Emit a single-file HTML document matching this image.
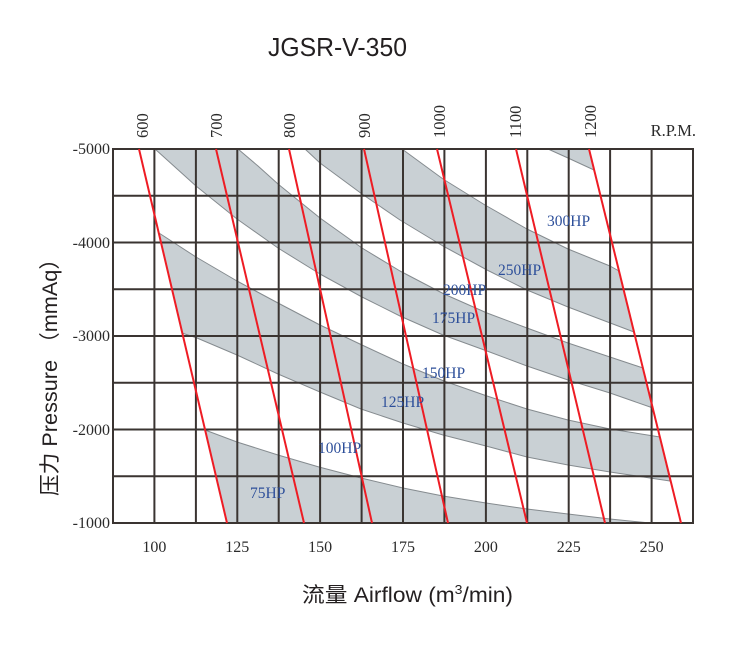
<!DOCTYPE html>
<html>
<head>
<meta charset="utf-8">
<style>
  html, body { margin: 0; padding: 0; background: #ffffff; }
  svg { display: block; }
  .num { font-family: "Liberation Serif", "DejaVu Serif", serif; font-size: 16px; fill: #2b2b2b; }
  .rpm { font-family: "Liberation Serif", "DejaVu Serif", serif; font-size: 16.5px; fill: #2b2b2b; }
  .hp { font-family: "Liberation Serif", "DejaVu Serif", serif; font-size: 15.5px; fill: #2d4f9a; }
  .ttl { font-family: "Liberation Sans", "Noto Sans CJK SC", sans-serif; fill: #231f20; }
</style>
</head>
<body>
<svg width="750" height="650" viewBox="0 0 750 650" xmlns="http://www.w3.org/2000/svg">
  <rect x="0" y="0" width="750" height="650" fill="#ffffff"/>

  <!-- Title -->
  <text class="ttl" x="268" y="56" font-size="26" textLength="139" lengthAdjust="spacingAndGlyphs">JGSR-V-350</text>

  <!-- Bands -->
  <g fill="#c9d0d4" stroke="#858b8f" stroke-width="1" stroke-linejoin="round">
    <!-- Band A (75HP) -->
    <path d="M205,430 L237,442 L278,455 L319,467 L361,478 L403,488 L443,496 L486,503 L527,509 L568,514 L610,519 L650,523 L227,523 Z"/>
    <!-- Band B (125HP) -->
    <path d="M159,233 L196,257 L237,281 L278,303 L320,325 L362,345 L403,364 L444,381 L487,396 L527,409 L568,420 L610,429 L660,437 L670,481 L610,472 L568,465 L527,457 L486,446 L443,435 L403,423 L361,409 L320,392 L278,374 L237,355 L197,338 L182,333 Z"/>
    <!-- Band C (175HP) -->
    <path d="M155,149 L238,149 L258,166 L278,184 L299,201 L320,218 L362,248 L400,271 L444,294 L487,313 L527,328 L568,343 L610,357 L643,368 L653,408 L610,393 L568,380 L527,366 L487,351 L443,335 L400,316 L362,297 L320,274 L278,248 L237,219 L196,186 Z"/>
    <!-- Band D (250HP) -->
    <path d="M305,149 L402,149 L443,179 L485,205 L527,229 L568,249 L610,266 L619,271 L634,332 L568,307 L527,290 L487,270 L443,246 L400,220 L362,194 L320,163 Z"/>
    <!-- Band E -->
    <path d="M548,149 L589,149 L594,170 L568,158 Z"/>
  </g>

  <!-- Grid -->
  <g stroke="#3a3431" stroke-width="2" fill="none">
    <line x1="113" y1="149" x2="113" y2="523"/>
    <line x1="154.4" y1="149" x2="154.4" y2="523"/>
    <line x1="195.9" y1="149" x2="195.9" y2="523"/>
    <line x1="237.3" y1="149" x2="237.3" y2="523"/>
    <line x1="278.7" y1="149" x2="278.7" y2="523"/>
    <line x1="320.1" y1="149" x2="320.1" y2="523"/>
    <line x1="361.6" y1="149" x2="361.6" y2="523"/>
    <line x1="403" y1="149" x2="403" y2="523"/>
    <line x1="444.4" y1="149" x2="444.4" y2="523"/>
    <line x1="485.9" y1="149" x2="485.9" y2="523"/>
    <line x1="527.3" y1="149" x2="527.3" y2="523"/>
    <line x1="568.7" y1="149" x2="568.7" y2="523"/>
    <line x1="610.1" y1="149" x2="610.1" y2="523"/>
    <line x1="651.6" y1="149" x2="651.6" y2="523"/>
    <line x1="693" y1="149" x2="693" y2="523"/>

    <line x1="112" y1="149" x2="694" y2="149"/>
    <line x1="112" y1="195.75" x2="694" y2="195.75"/>
    <line x1="112" y1="242.5" x2="694" y2="242.5"/>
    <line x1="112" y1="289.25" x2="694" y2="289.25"/>
    <line x1="112" y1="336" x2="694" y2="336"/>
    <line x1="112" y1="382.75" x2="694" y2="382.75"/>
    <line x1="112" y1="429.5" x2="694" y2="429.5"/>
    <line x1="112" y1="476.25" x2="694" y2="476.25"/>
    <line x1="112" y1="523" x2="694" y2="523"/>
  </g>

  <!-- RPM lines -->
  <g stroke="#ee1c24" stroke-width="2" fill="none" stroke-linecap="butt">
    <line x1="139" y1="149" x2="227" y2="523"/>
    <line x1="216" y1="149" x2="304" y2="523"/>
    <line x1="289" y1="149" x2="372" y2="523"/>
    <line x1="364" y1="149" x2="448" y2="523"/>
    <line x1="437" y1="149" x2="527" y2="523"/>
    <line x1="516" y1="149" x2="605" y2="523"/>
    <line x1="589" y1="149" x2="681" y2="523"/>
  </g>

  <!-- HP labels -->
  <text class="hp" x="547" y="226">300HP</text>
  <text class="hp" x="498" y="275">250HP</text>
  <text class="hp" x="443" y="295">200HP</text>
  <text class="hp" x="432" y="323">175HP</text>
  <text class="hp" x="422" y="378">150HP</text>
  <text class="hp" x="381" y="407">125HP</text>
  <text class="hp" x="318" y="453">100HP</text>
  <text class="hp" x="250" y="498">75HP</text>

  <!-- Y-axis numbers -->
  <text class="num" x="110" y="154" text-anchor="end">-5000</text>
  <text class="num" x="110" y="248" text-anchor="end">-4000</text>
  <text class="num" x="110" y="341" text-anchor="end">-3000</text>
  <text class="num" x="110" y="435" text-anchor="end">-2000</text>
  <text class="num" x="110" y="528" text-anchor="end">-1000</text>

  <!-- X-axis numbers -->
  <text class="num" x="154.4" y="552" text-anchor="middle">100</text>
  <text class="num" x="237.3" y="552" text-anchor="middle">125</text>
  <text class="num" x="320.1" y="552" text-anchor="middle">150</text>
  <text class="num" x="403" y="552" text-anchor="middle">175</text>
  <text class="num" x="485.9" y="552" text-anchor="middle">200</text>
  <text class="num" x="568.7" y="552" text-anchor="middle">225</text>
  <text class="num" x="651.6" y="552" text-anchor="middle">250</text>

  <!-- RPM labels (rotated) -->
  <text class="rpm" transform="translate(148,138) rotate(-90)">600</text>
  <text class="rpm" transform="translate(222,138) rotate(-90)">700</text>
  <text class="rpm" transform="translate(295,138) rotate(-90)">800</text>
  <text class="rpm" transform="translate(370,138) rotate(-90)">900</text>
  <text class="rpm" transform="translate(445,138) rotate(-90)">1000</text>
  <text class="rpm" transform="translate(521,138) rotate(-90)">1100</text>
  <text class="rpm" transform="translate(596,138) rotate(-90)">1200</text>
  <text class="rpm" x="696" y="136" text-anchor="end">R.P.M.</text>

  <!-- X-axis title -->
  <text class="ttl" x="302" y="602" font-size="21" textLength="211" lengthAdjust="spacingAndGlyphs">流量 Airflow (m<tspan font-size="13" dy="-8">3</tspan><tspan dy="8">/min)</tspan></text>

  <!-- Y-axis title -->
  <text class="ttl" font-size="21" transform="translate(57,496) rotate(-90)" textLength="248" lengthAdjust="spacingAndGlyphs">压力 Pressure （mmAq）</text>
</svg>
</body>
</html>
